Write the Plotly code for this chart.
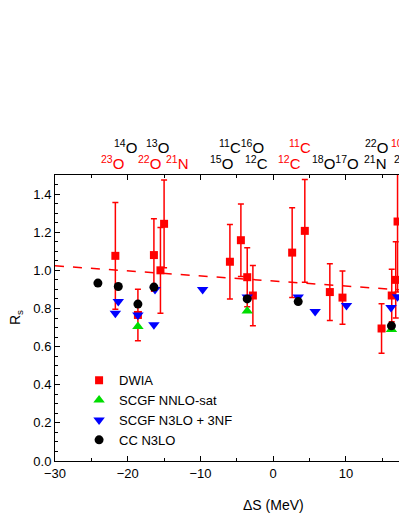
import plotly.graph_objects as go

FONT = "Arial, Liberation Sans, sans-serif"
RED = "#ff0000"
BLUE = "#0000ff"
GREEN = "#00dd00"

# DWIA spectroscopic ratios with errors
dwia_ds = [-21.7, -18.6, -16.4, -15.5, -15.0, -5.95, -4.44, -3.57, -2.79,
           2.61, 4.35, 7.79, 9.53, 14.9, 16.3, 16.85, 17.1]
dwia_rs = [1.076, 0.766, 1.08, 1.0, 1.244, 1.045, 1.158, 0.964, 0.868,
           1.093, 1.207, 0.886, 0.857, 0.695, 0.868, 0.95, 1.256]
dwia_err = [0.28, 0.135, 0.19, 0.225, 0.23, 0.195, 0.19, 0.155, 0.158,
            0.235, 0.27, 0.149, 0.14, 0.13, 0.138, 0.2, 0.37]

# SCGF NNLO-sat
sat_ds = [-18.6, -3.57, 16.26]
sat_rs = [0.705, 0.787, 0.69]

# SCGF N3LO + 3NF
n3lo_ds = [-21.7, -21.3, -18.6, -16.4, -16.25, -9.7, -3.57, 3.44, 5.77,
           10.08, 16.2, 17.1]
n3lo_rs = [0.775, 0.836, 0.766, 0.714, 0.90, 0.90, 0.86, 0.86, 0.784,
           0.815, 0.805, 0.862]

# CC N3LO
cc_ds = [-24.1, -21.3, -18.6, -16.4, -3.57, 3.44, 16.26]
cc_rs = [0.933, 0.915, 0.823, 0.912, 0.85, 0.836, 0.709]

# linear trend of DWIA (end points)
fit_ds = [-30, 17.3]
fit_rs = [1.024, 0.898]

# isotope labels above the frame: (label, left ΔS, row, red?)
top_labels = [
    ("<sup>14</sup>O", -22.14, 0, False),
    ("<sup>13</sup>O", -17.76, 0, False),
    ("<sup>11</sup>C<sup>16</sup>O", -7.73, 0, False),
    ("<sup>11</sup>C", 1.88, 0, True),
    ("<sup>22</sup>O", 12.32, 0, False),
    ("<sup>10</sup>C", 15.89, 0, True),
    ("<sup>23</sup>O", -23.93, 1, True),
    ("<sup>22</sup>O", -18.85, 1, True),
    ("<sup>21</sup>N", -15.01, 1, True),
    ("<sup>15</sup>O", -8.97, 1, False),
    ("<sup>12</sup>C", -4.16, 1, False),
    ("<sup>12</sup>C", 0.37, 1, True),
    ("<sup>18</sup>O<sup>17</sup>O", 5.04, 1, False),
    ("<sup>21</sup>N", 12.18, 1, False),
    ("<sup>21</sup>O", 16.3, 1, False),
]

fig = go.Figure()
fig.add_trace(go.Scatter(
    x=fit_ds, y=fit_rs, mode="lines", showlegend=False,
    line=dict(color=RED, width=1.5, dash="dash"),
))
fig.add_trace(go.Scatter(
    x=dwia_ds, y=dwia_rs, mode="markers", name="DWIA",
    marker=dict(symbol="square", size=8, color=RED),
    error_y=dict(type="data", array=dwia_err, color=RED, thickness=1.5, width=3),
))
fig.add_trace(go.Scatter(
    x=sat_ds, y=sat_rs, mode="markers", name="SCGF NNLO-sat",
    marker=dict(symbol="triangle-up", size=10, color=GREEN),
))
fig.add_trace(go.Scatter(
    x=n3lo_ds, y=n3lo_rs, mode="markers", name="SCGF N3LO + 3NF",
    marker=dict(symbol="triangle-down", size=10, color=BLUE),
))
fig.add_trace(go.Scatter(
    x=cc_ds, y=cc_rs, mode="markers", name="CC N3LO",
    marker=dict(symbol="circle", size=9, color="black"),
))

for text, ds, row, red in top_labels:
    fig.add_annotation(
        x=ds, xref="x", xanchor="left",
        y=1.10 if row == 0 else 1.045, yref="paper", yanchor="middle",
        text=text, showarrow=False,
        font=dict(size=15, color=RED if red else "black", family=FONT),
    )

fig.add_annotation(
    x=0, xref="x", y=-0.154, yref="paper", yanchor="middle",
    text="ΔS (MeV)", showarrow=False,
    font=dict(size=14, color="black", family=FONT),
)
fig.add_annotation(
    x=-0.145, xref="paper", y=0.5, yref="paper", text="R<sub>s</sub>",
    textangle=-90, showarrow=False,
    font=dict(size=14, color="black", family=FONT),
)

fig.update_layout(
    width=399, height=516,
    margin=dict(l=55, r=0, t=175, b=55),
    paper_bgcolor="white", plot_bgcolor="white",
    font=dict(family=FONT, size=13, color="black"),
    legend=dict(x=0.07, y=0.335, xanchor="left", yanchor="top",
                bgcolor="rgba(0,0,0,0)", font=dict(size=13),
                tracegroupgap=0, itemwidth=30),
)
fig.update_xaxes(
    range=[-30, 17.3], showgrid=False, zeroline=False,
    showline=True, linecolor="black", linewidth=1, mirror="ticks",
    ticks="inside", ticklen=5, tickcolor="black", dtick=10, tick0=0,
    minor=dict(ticks="inside", ticklen=3, dtick=5, tickcolor="black"),
    tickfont=dict(size=13),
)
fig.update_yaxes(
    range=[0, 1.5], showgrid=False, zeroline=False,
    showline=True, linecolor="black", linewidth=1,
    ticks="inside", ticklen=5, tickcolor="black", dtick=0.2, tick0=0,
    tickformat=".1f",
    minor=dict(ticks="inside", ticklen=3, dtick=0.05, tickcolor="black"),
    tickfont=dict(size=13),
)

# drop the default page margin so the figure fills the window exactly
fig.write_html(
    "out.html",
    config={"displayModeBar": False},
    post_script="document.body.style.margin='0';document.body.style.overflow='hidden';",
)
